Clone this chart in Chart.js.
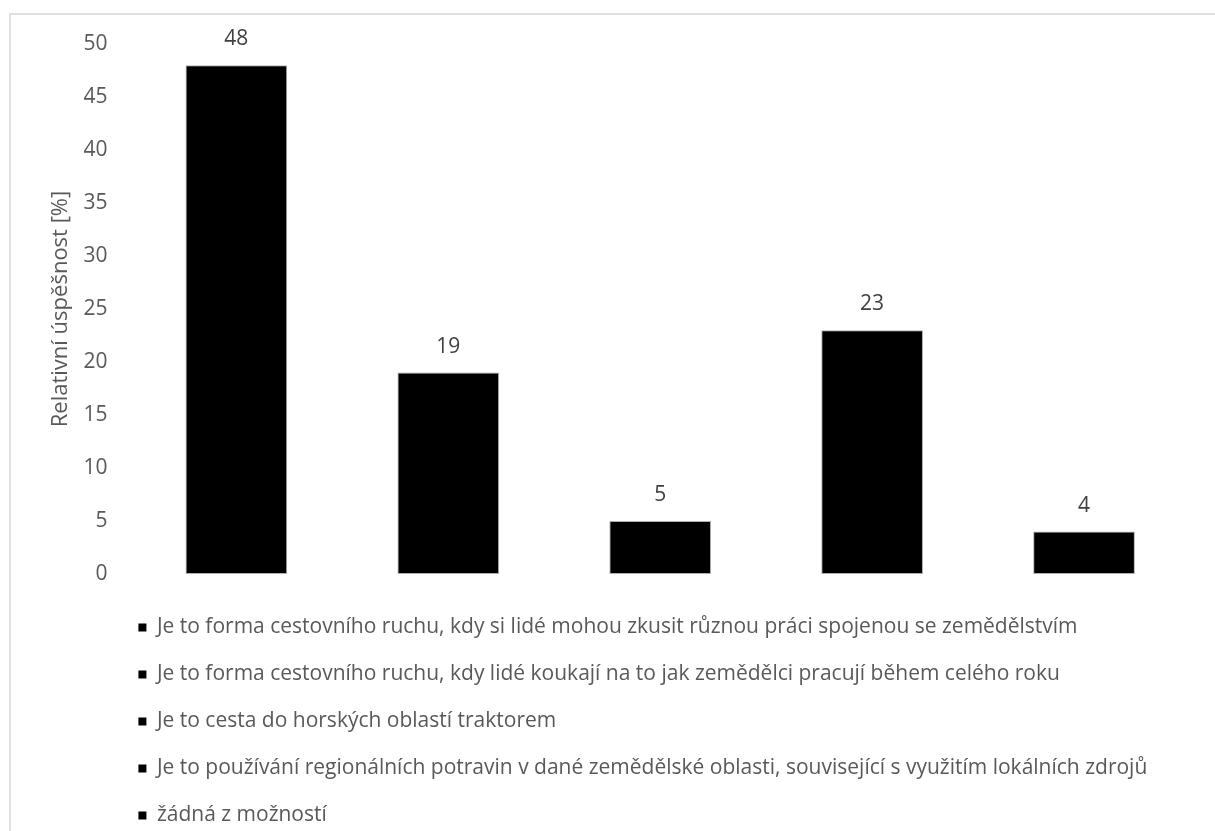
<!DOCTYPE html>
<html>
<head>
<meta charset="utf-8">
<title>Relativní úspěšnost</title>
<script src="https://cdn.jsdelivr.net/npm/chart.js"></script>
<style>
    html, body { margin: 0; padding: 0; background: #fff; overflow: hidden; }
    #frame { position: absolute; left: 9px; top: 13px; width: 1400px; height: 1000px; border: 2px solid #e0e0e0; }
    #wrap { position: absolute; left: 0; top: 0; width: 1215px; height: 836px; }
</style>
</head>
<body>
<div id="frame"></div>
<div id="wrap"><canvas id="myChart"></canvas></div>
<script>
// answer options of the question
var answers = [
    'Je to forma cestovního ruchu, kdy si lidé mohou zkusit různou práci spojenou se zemědělstvím',
    'Je to forma cestovního ruchu, kdy lidé koukají na to jak zemědělci pracují během celého roku',
    'Je to cesta do horských oblastí traktorem',
    'Je to používání regionálních potravin v dané zemědělské oblasti, související s využitím lokálních zdrojů',
    'žádná z možností'
];
// share of respondents in %
var shares = [48, 19, 5, 23, 4];

var yMin = 0;
var yMax = 50;
var yStep = 5;
var yTitle = 'Relativní úspěšnost [%]';

var fontFamily = '"Open Sans", "DejaVu Sans", sans-serif';
var textGrey = '#595959';

// numbers above the bars
var valueLabels = {
    id: 'valueLabels',
    afterDatasetsDraw: function(chart) {
        var ctx = chart.ctx;
        var meta = chart.getDatasetMeta(0);
        ctx.save();
        ctx.font = '21px ' + fontFamily;
        ctx.fillStyle = '#404040';
        ctx.textAlign = 'center';
        ctx.textBaseline = 'middle';
        meta.data.forEach(function(bar, i) {
            ctx.fillText(String(shares[i]), bar.x, bar.y - 26);
        });
        ctx.restore();
    }
};

// pull the legend a bit to the left, under the axis labels
var legendOffset = {
    id: 'legendOffset',
    afterLayout: function(chart) {
        chart.legend.left = chart.chartArea.left - 18;
    }
};

var ctx = document.getElementById('myChart').getContext('2d');
var myChart = new Chart(ctx, {
    type: 'bar',
    data: {
        labels: answers,
        datasets: [{
            label: yTitle,
            data: shares,
            backgroundColor: '#000000',
            borderColor: '#b0b0b0',
            borderWidth: 1,
            borderSkipped: false,
            categoryPercentage: 1.0,
            barPercentage: 0.48
        }]
    },
    options: {
        responsive: true,
        maintainAspectRatio: false,
        animation: false,
        layout: {
            padding: { left: 48, right: 25, top: 44, bottom: 0 }
        },
        plugins: {
            tooltip: { enabled: false },
            legend: {
                position: 'bottom',
                align: 'start',
                labels: {
                    boxWidth: 8,
                    boxHeight: 8,
                    padding: 26,
                    color: textGrey,
                    font: { family: fontFamily, size: 21 },
                    generateLabels: function(chart) {
                        return answers.map(function(text, i) {
                            return {
                                text: text,
                                fillStyle: '#000000',
                                strokeStyle: '#000000',
                                lineWidth: 0,
                                fontColor: textGrey,
                                hidden: false,
                                index: i
                            };
                        });
                    }
                }
            }
        },
        scales: {
            x: {
                ticks: { display: false },
                grid: { display: false, drawTicks: true, tickLength: 17 },
                border: { display: false }
            },
            y: {
                min: yMin,
                max: yMax,
                ticks: {
                    stepSize: yStep,
                    padding: 23,
                    color: textGrey,
                    font: { family: fontFamily, size: 21 }
                },
                grid: { display: false, drawTicks: false },
                border: { display: false },
                title: {
                    display: true,
                    text: yTitle,
                    color: textGrey,
                    font: { family: fontFamily, size: 22 },
                    padding: { top: 0, bottom: -14 }
                }
            }
        }
    },
    plugins: [valueLabels, legendOffset]
});
</script>
</body>
</html>
